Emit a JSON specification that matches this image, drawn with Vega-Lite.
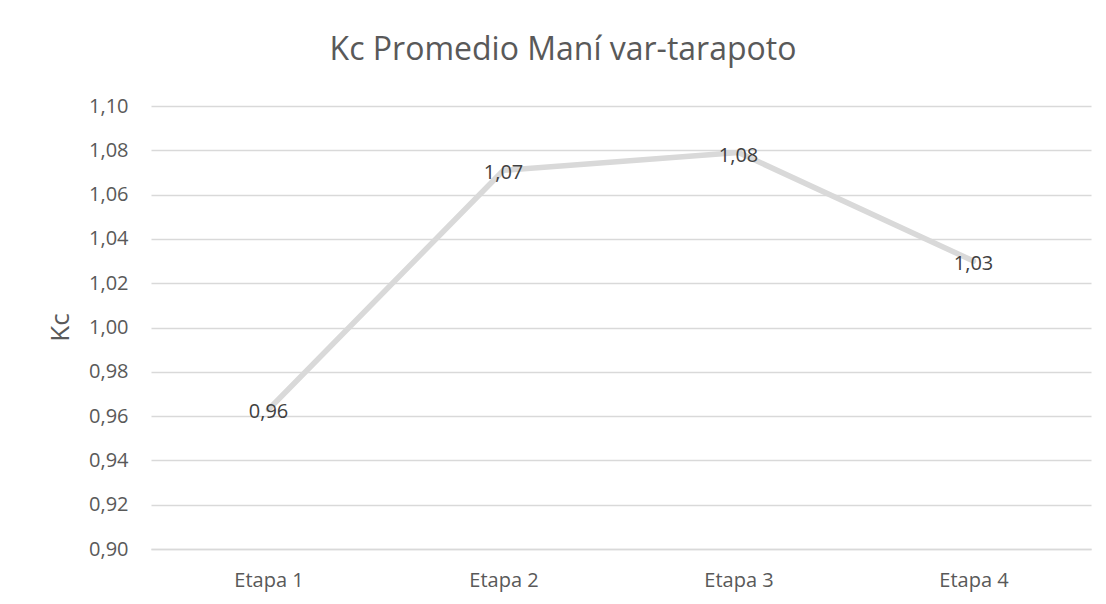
{
  "$schema": "https://vega.github.io/schema/vega-lite/v6.json",
  "width": 940,
  "height": 443,
  "autosize": {"type": "none"},
  "padding": {"left": 151, "top": 106, "right": 15, "bottom": 55},
  "background": "white",
  "title": {
    "text": "Kc Promedio Maní var-tarapoto",
    "anchor": "middle",
    "dx": -58,
    "offset": 29,
    "fontSize": 32,
    "font": "Open Sans",
    "fontWeight": "normal",
    "color": "#595959"
  },
  "data": {
    "values": [
      {"Etapa": "Etapa 1", "Kc": 0.963},
      {"Etapa": "Etapa 2", "Kc": 1.071},
      {"Etapa": "Etapa 3", "Kc": 1.079},
      {"Etapa": "Etapa 4", "Kc": 1.030}
    ]
  },
  "transform": [
    {"calculate": "replace(format(datum.Kc, '.2f'), '.', ',')", "as": "label"}
  ],
  "encoding": {
    "x": {
      "field": "Etapa",
      "type": "nominal",
      "sort": null,
      "scale": {"type": "point", "padding": 0.5},
      "axis": {
        "title": null,
        "labelAngle": 0,
        "labelFont": "Open Sans",
        "labelFontSize": 20,
        "labelColor": "#595959",
        "labelPadding": 21,
        "ticks": false,
        "domain": true,
        "domainColor": "#d9d9d9",
        "domainWidth": 1.3
      }
    },
    "y": {
      "field": "Kc",
      "type": "quantitative",
      "scale": {"domain": [0.9, 1.1], "nice": false, "zero": false},
      "axis": {
        "title": "Kc",
        "values": [0.9, 0.92, 0.94, 0.96, 0.98, 1.0, 1.02, 1.04, 1.06, 1.08, 1.1],
        "labelExpr": "replace(format(datum.value, '.2f'), '.', ',')",
        "labelFont": "Open Sans",
        "labelFontSize": 20,
        "labelColor": "#595959",
        "labelPadding": 23,
        "ticks": false,
        "domain": false,
        "grid": true,
        "gridColor": "#d9d9d9",
        "gridWidth": 1.3,
        "titleFont": "Open Sans",
        "titleFontSize": 26,
        "titleFontWeight": "normal",
        "titleColor": "#595959",
        "titleX": -91,
        "titleY": 221,
        "titleAlign": "center",
        "titleBaseline": "middle",
        "titleAngle": -90
      }
    }
  },
  "layer": [
    {
      "mark": {"type": "line", "color": "#d9d9d9", "strokeWidth": 5.5, "strokeCap": "round", "strokeJoin": "round"}
    },
    {
      "mark": {"type": "text", "font": "Open Sans", "fontSize": 20, "color": "#404040", "align": "center", "baseline": "middle", "dy": 3},
      "encoding": {"text": {"field": "label"}}
    }
  ],
  "config": {"view": {"stroke": null}}
}
